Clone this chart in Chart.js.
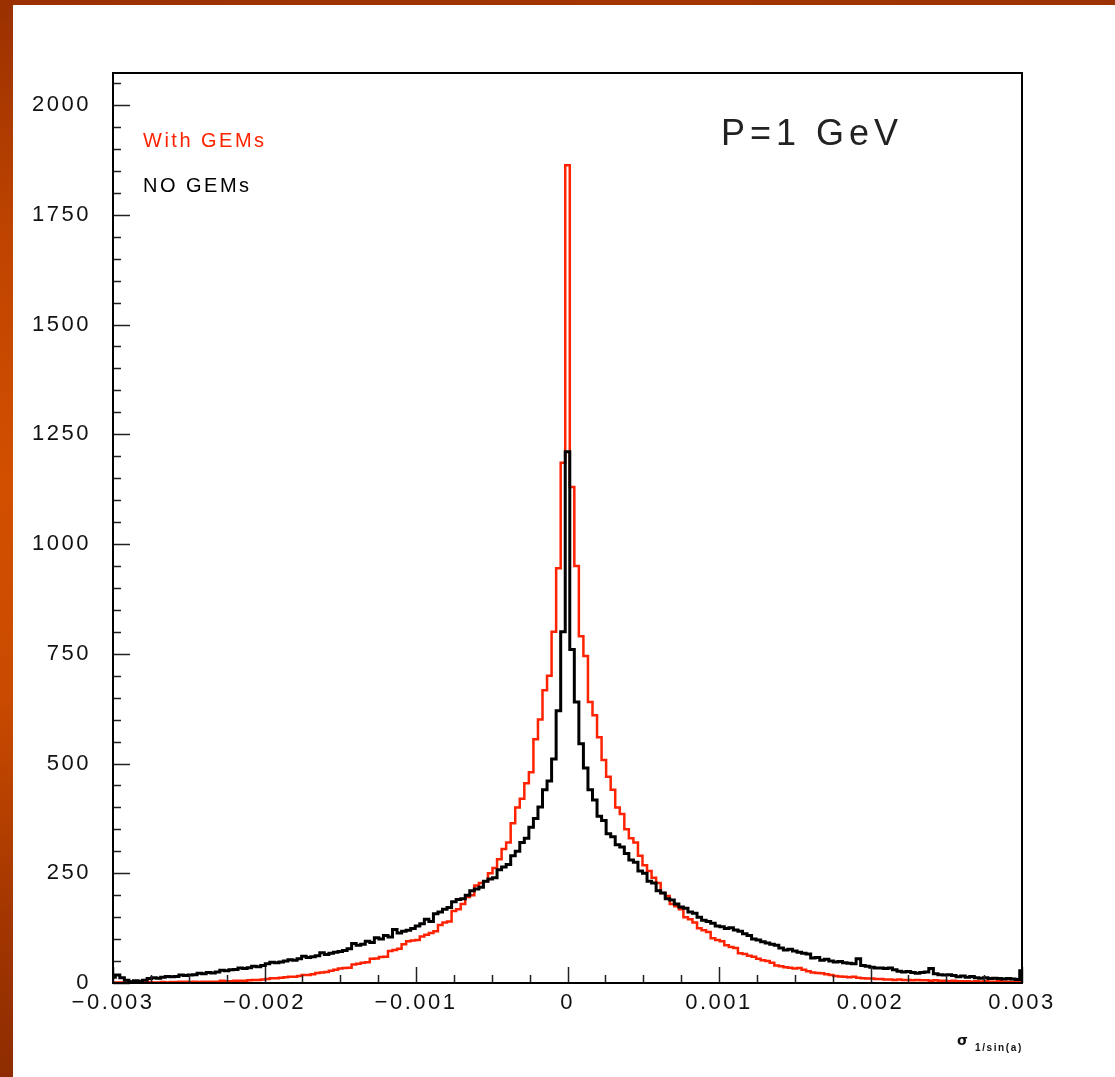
<!DOCTYPE html>
<html>
<head>
<meta charset="utf-8">
<script src="https://cdn.jsdelivr.net/npm/chart.js@4.4.1/dist/chart.umd.min.js"></script>
<style>
  body { margin: 0; background: #fff; }
  #wrap { position: relative; width: 1115px; height: 1077px; overflow: hidden; }
  #topbar { position: absolute; left: 0; top: 0; width: 1115px; height: 5px; background: linear-gradient(to right, #9a3000, #a33600 60%, #9c3200); }
  #leftbar { position: absolute; left: 0; top: 0; width: 13px; height: 1077px;
    background: linear-gradient(to bottom, #9a3000 0%, #bf4400 22%, #d24f00 45%, #c94a00 65%, #a33600 85%, #8e2c00 100%); }
  #myChart { position: absolute; left: 0; top: 0; }
</style>
</head>
<body>
<div id="wrap">
  <div id="topbar"></div>
  <div id="leftbar"></div>
  <canvas id="myChart" width="1115" height="1077"></canvas>
</div>
<script>
//Histogram binning: 201 bins, centres from -0.003 to 0.003
let binFirst = -0.003,
  binWidth = 0.00003;

//NO GEMs (black), bin contents, left to right
let noGems = [
  13, 18, 12, 6, 3, 5, 4, 6, 10, 12,
  11, 13, 15, 14, 15, 18, 17, 18, 19, 22,
  21, 24, 23, 25, 29, 28, 30, 31, 34, 33,
  35, 38, 37, 40, 44, 47, 46, 48, 50, 53,
  52, 55, 61, 58, 60, 62, 69, 65, 68, 70,
  72, 74, 78, 90, 86, 88, 95, 92, 103, 100,
  108, 105, 122, 114, 118, 120, 124, 130, 135, 145,
  140, 158, 162, 168, 172, 185, 190, 192, 200, 210,
  214, 218, 232, 237, 240, 258, 264, 270, 290, 300,
  320, 330, 355, 375, 401, 440, 460, 510, 620, 800,
  1210,
  760, 640, 545, 490, 440, 417, 380, 370, 340, 333,
  315, 310, 295, 280, 275, 255, 250, 232, 228, 210,
  205, 192, 189, 180, 173, 170, 162, 159, 150, 143,
  140, 136, 130, 128, 124, 126, 121, 118, 112, 108,
  100, 98, 94, 91, 88, 86, 80, 75, 77, 73,
  70, 68, 66, 57, 58, 52, 54, 50, 48, 49,
  46, 45, 44, 55, 40, 38, 36, 34, 34, 33,
  34, 30, 27, 25, 26, 24, 22, 24, 25, 33,
  21, 19, 18, 19, 17, 14, 16, 13, 15, 12,
  11, 12, 10, 11, 10, 9, 10, 9, 8, 28
];

//With GEMs (red)
let withGems = [
  0, 1, 1, 1, 2, 1, 1, 1, 2, 1,
  1, 2, 1, 2, 2, 3, 3, 2, 3, 2,
  3, 3, 3, 3, 5, 4, 4, 5, 5, 5,
  6, 7, 7, 8, 9, 11, 11, 12, 13, 14,
  14, 16, 18, 18, 20, 23, 24, 25, 28, 30,
  33, 34, 35, 42, 44, 46, 47, 55, 56, 59,
  60, 73, 75, 78, 88, 95, 97, 98, 106, 110,
  114, 118, 132, 138, 140, 164, 168, 180, 196, 200,
  222, 228, 232, 250, 262, 282, 305, 320, 364, 400,
  420, 455, 480, 555, 600, 667, 700, 800, 945, 1185,
  1863,
  1130, 950, 790, 745, 640, 610, 560, 508, 470, 440,
  400, 385, 350, 330, 320, 290, 268, 255, 240, 228,
  205, 198, 180, 175, 168, 150, 145, 138, 125, 120,
  116, 102, 98, 95, 86, 82, 80, 68, 66, 62,
  60, 55, 52, 50, 46, 40, 38, 36, 35, 33,
  34, 30, 27, 24, 23, 22, 20, 18, 16, 15,
  14, 13, 14, 12, 11, 10, 10, 9, 9, 8,
  8, 7, 8, 7, 7, 6, 7, 6, 6, 5,
  6, 5, 5, 4, 5, 4, 4, 4, 3, 4,
  3, 4, 3, 3, 4, 3, 3, 2, 3, 2
];

//Axis tick labels
let xTicks = [-0.003, -0.002, -0.001, 0, 0.001, 0.002, 0.003];
let yTicks = [0, 250, 500, 750, 1000, 1250, 1500, 1750, 2000];
let yMax = 2073;

let labels = ["NO GEMs", "With GEMs"],
  lineColor = ["#000000", "#ff2200"];

//Turns bin contents into {x, y} points at bin centres
function toPoints(values) {
  return values.map((v, i) => ({ x: binFirst + i * binWidth, y: v }));
}

function fmtX(v) {
  let r = Math.round(v * 1000);
  if (r == 0) return "0";
  return (r < 0 ? "\u2212" : "") + "0.00" + Math.abs(r);
}

//Inward ROOT style ticks, frame and the texts
let rootFrame = {
  id: "rootFrame",
  beforeDraw(chart) {
    chart.ctx.letterSpacing = "2.5px";
  },
  afterDraw(chart) {
    let ctx = chart.ctx,
      area = chart.chartArea,
      xs = chart.scales.x,
      ys = chart.scales.y;
    ctx.save();
    ctx.strokeStyle = "#222";
    ctx.lineWidth = 1.5;
    ctx.beginPath();
    for (let v = 0; v <= 2050; v += 50) {
      let py = Math.round(ys.getPixelForValue(v)) + 0.5;
      let len = v % 250 == 0 ? 17 : 8;
      ctx.moveTo(area.left, py);
      ctx.lineTo(area.left + len, py);
    }
    for (let i = 0; i <= 24; i++) {
      let v = -0.003 + i * 0.00025;
      let px = Math.round(xs.getPixelForValue(v)) + 0.5;
      let len = i % 4 == 0 ? 16 : 8;
      ctx.moveTo(px, area.bottom);
      ctx.lineTo(px, area.bottom - len);
    }
    ctx.stroke();

    ctx.lineWidth = 2;
    ctx.strokeStyle = "#000";
    ctx.strokeRect(area.left, area.top, area.right - area.left, area.bottom - area.top);

    ctx.textBaseline = "middle";
    ctx.textAlign = "left";
    ctx.font = "20px 'Liberation Sans', Arial, sans-serif";
    ctx.letterSpacing = "2.5px";
    ctx.fillStyle = lineColor[1];
    ctx.fillText(labels[1], 143, 141);
    ctx.fillStyle = lineColor[0];
    ctx.fillText(labels[0], 143, 186);

    ctx.font = "36px 'Liberation Sans', Arial, sans-serif";
    ctx.letterSpacing = "5px";
    ctx.fillStyle = "#222";
    ctx.fillText("P=1 GeV", 721, 135);

    //axis title sigma_{1/sin(a)}
    ctx.textBaseline = "alphabetic";
    ctx.letterSpacing = "0px";
    ctx.fillStyle = "#111";
    ctx.font = "bold 14px 'DejaVu Sans', sans-serif";
    ctx.fillText("\u03c3", 957, 1045);
    ctx.font = "bold 10px 'Liberation Sans', Arial, sans-serif";
    ctx.letterSpacing = "1.6px";
    ctx.fillText("1/sin(a)", 975, 1051);
    ctx.restore();
  }
};

let ctx = document.getElementById("myChart").getContext("2d");
let myChart = new Chart(ctx, {
  type: "line",
  data: {
    datasets: [
      {
        label: labels[0],
        data: toPoints(noGems),
        borderColor: lineColor[0],
        borderWidth: 3,
        stepped: "middle",
        pointRadius: 0,
        fill: false,
        order: 0
      },
      {
        label: labels[1],
        data: toPoints(withGems),
        borderColor: lineColor[1],
        borderWidth: 2.5,
        stepped: "middle",
        pointRadius: 0,
        fill: false,
        order: 1
      }
    ]
  },
  options: {
    responsive: false,
    animation: false,
    layout: { padding: { left: 0, top: 73, right: 93, bottom: 0 } },
    plugins: { legend: { display: false }, tooltip: { enabled: false } },
    scales: {
      x: {
        type: "linear",
        min: -0.003,
        max: 0.003,
        grid: { display: false, drawTicks: false },
        border: { display: false },
        afterBuildTicks: (scale) => { scale.ticks = xTicks.map((v) => ({ value: v })); },
        afterFit: (scale) => { scale.height = 94; },
        ticks: {
          padding: 7,
          maxRotation: 0,
          autoSkip: false,
          color: "#111",
          font: { family: "'Liberation Sans', Arial, sans-serif", size: 22 },
          callback: (v) => fmtX(v)
        }
      },
      y: {
        type: "linear",
        min: 0,
        max: yMax,
        grid: { display: false, drawTicks: false },
        border: { display: false },
        afterBuildTicks: (scale) => { scale.ticks = yTicks.map((v) => ({ value: v })); },
        afterFit: (scale) => { scale.width = 113; },
        ticks: {
          padding: 22,
          color: "#111",
          font: { family: "'Liberation Sans', Arial, sans-serif", size: 22 },
          callback: (v) => String(v)
        }
      }
    }
  },
  plugins: [rootFrame]
});
</script>
</body>
</html>
